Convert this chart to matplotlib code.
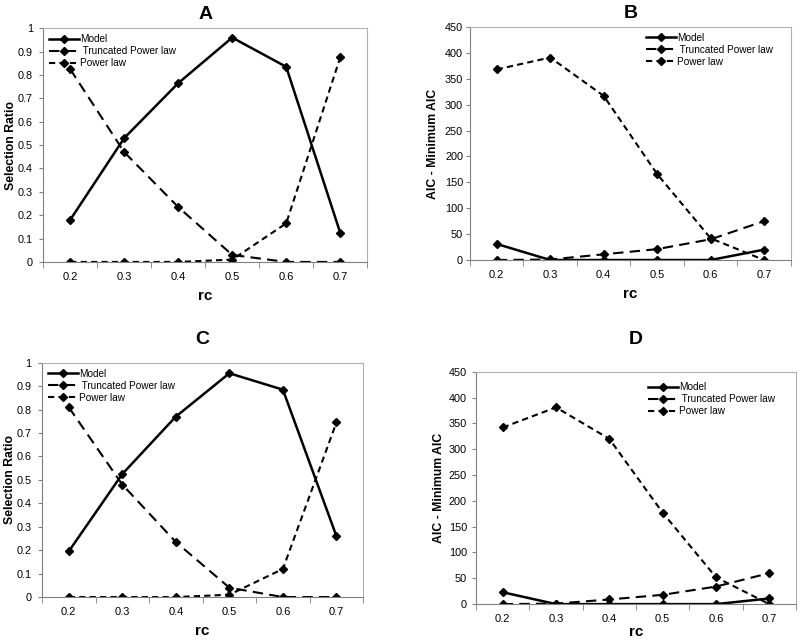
import numpy as np
import matplotlib
matplotlib.use('Agg')
import matplotlib.pyplot as plt

plt.rcParams['font.family'] = ['Liberation Sans', 'DejaVu Sans']

rc = ['0.2', '0.3', '0.4', '0.5', '0.6', '0.7']

# panel A - selection ratio
a_model = [0.18, 0.53, 0.765, 0.96, 0.835, 0.125]
a_trunc = [0.825, 0.47, 0.235, 0.03, 0.0, 0.0]
a_power = [0.0, 0.0, 0.0, 0.01, 0.165, 0.875]

# panel B - AIC difference
b_model = [31, 0, 0, 0, 0, 20]
b_trunc = [0, 1, 11, 21, 40, 75]
b_power = [368, 391, 317, 166, 42, 0]

# panel C - selection ratio
c_model = [0.195, 0.525, 0.77, 0.955, 0.885, 0.26]
c_trunc = [0.81, 0.48, 0.235, 0.04, 0.0, 0.0]
c_power = [0.0, 0.0, 0.0, 0.01, 0.12, 0.745]

# panel D - AIC difference
d_model = [23, 0, 0, 0, 0, 11]
d_trunc = [0, 1, 9, 18, 34, 60]
d_power = [342, 381, 320, 177, 52, 0]

labels = ['Model', ' Truncated Power law', 'Power law']
styles = [dict(ls='-', lw=1.8),
          dict(ls=(0, (5, 3)), lw=1.5),
          dict(ls=(0, (3, 2)), lw=1.5)]


def draw(ax, series, title, title_pad, ylabel, yticks, ylabels, legend_anchor,
         ypad, ylabel_x, xlabelpad=5):
    x = np.arange(len(rc))
    for vals, lab, st in zip(series, labels, styles):
        ax.plot(x, vals, color='black', marker='D', ms=4, label=lab, **st)
    ax.set_xlim(-0.5, len(rc) - 0.5)
    ax.set_ylim(yticks[0], yticks[-1])
    ax.set_xticks(x)
    ax.set_xticklabels(rc)
    ax.set_xticks(np.arange(len(rc) + 1) - 0.5, minor=True)
    ax.tick_params(axis='x', which='major', length=0, labelsize=8, pad=7)
    ax.tick_params(axis='x', which='minor', length=4, direction='out', color='#808080')
    ax.set_yticks(yticks)
    ax.set_yticklabels(ylabels)
    ax.tick_params(axis='y', length=3, direction='out', labelsize=7.8, pad=ypad, color='#808080')
    for s in ['top', 'right']:
        ax.spines[s].set_color('#b0b0b0')
        ax.spines[s].set_linewidth(0.8)
    for s in ['left', 'bottom']:
        ax.spines[s].set_color('#808080')
        ax.spines[s].set_linewidth(0.8)
    ax.set_title(title, fontsize=14, fontweight='bold', pad=title_pad)
    ax.set_xlabel('rc', fontsize=11, fontweight='bold', labelpad=xlabelpad)
    ax.set_ylabel(ylabel, fontsize=8.8, fontweight='bold')
    ax.yaxis.set_label_coords(ylabel_x, 0.5)
    ax.legend(loc='upper left', bbox_to_anchor=legend_anchor, frameon=False,
              fontsize=7.2, handlelength=3, handletextpad=0.1, labelspacing=0.2,
              borderaxespad=0.2)


fig = plt.figure(figsize=(8, 6.42), dpi=100)

ratio_ticks = [0, 0.1, 0.2, 0.3, 0.4, 0.5, 0.6, 0.7, 0.8, 0.9, 1]
ratio_labels = ['0', '0.1', '0.2', '0.3', '0.4', '0.5', '0.6', '0.7', '0.8', '0.9', '1']
aic_ticks = [0, 50, 100, 150, 200, 250, 300, 350, 400, 450]
aic_labels = [str(t) for t in aic_ticks]

axA = fig.add_axes([0.054, 0.592, 0.405, 0.364])
draw(axA, [a_model, a_trunc, a_power], 'A', 6.5, 'Selection Ratio',
     ratio_ticks, ratio_labels, (0.0, 1.0), ypad=4.5, ylabel_x=-0.08)

axB = fig.add_axes([0.5875, 0.595, 0.401, 0.363])
draw(axB, [b_model, b_trunc, b_power], 'B', 6.5, 'AIC - Minimum AIC',
     aic_ticks, aic_labels, (0.53, 1.0), ypad=2, ylabel_x=-0.097)

axC = fig.add_axes([0.0525, 0.070, 0.4015, 0.365])
draw(axC, [c_model, c_trunc, c_power], 'C', 13.5, 'Selection Ratio',
     ratio_ticks, ratio_labels, (0.0, 1.0), ypad=4.5, ylabel_x=-0.081)

axD = fig.add_axes([0.595, 0.059, 0.40, 0.362])
draw(axD, [d_model, d_trunc, d_power], 'D', 20, 'AIC - Minimum AIC',
     aic_ticks, aic_labels, (0.52, 0.98), ypad=3.5, ylabel_x=-0.097, xlabelpad=1)

fig.savefig('out.png', dpi=100)
